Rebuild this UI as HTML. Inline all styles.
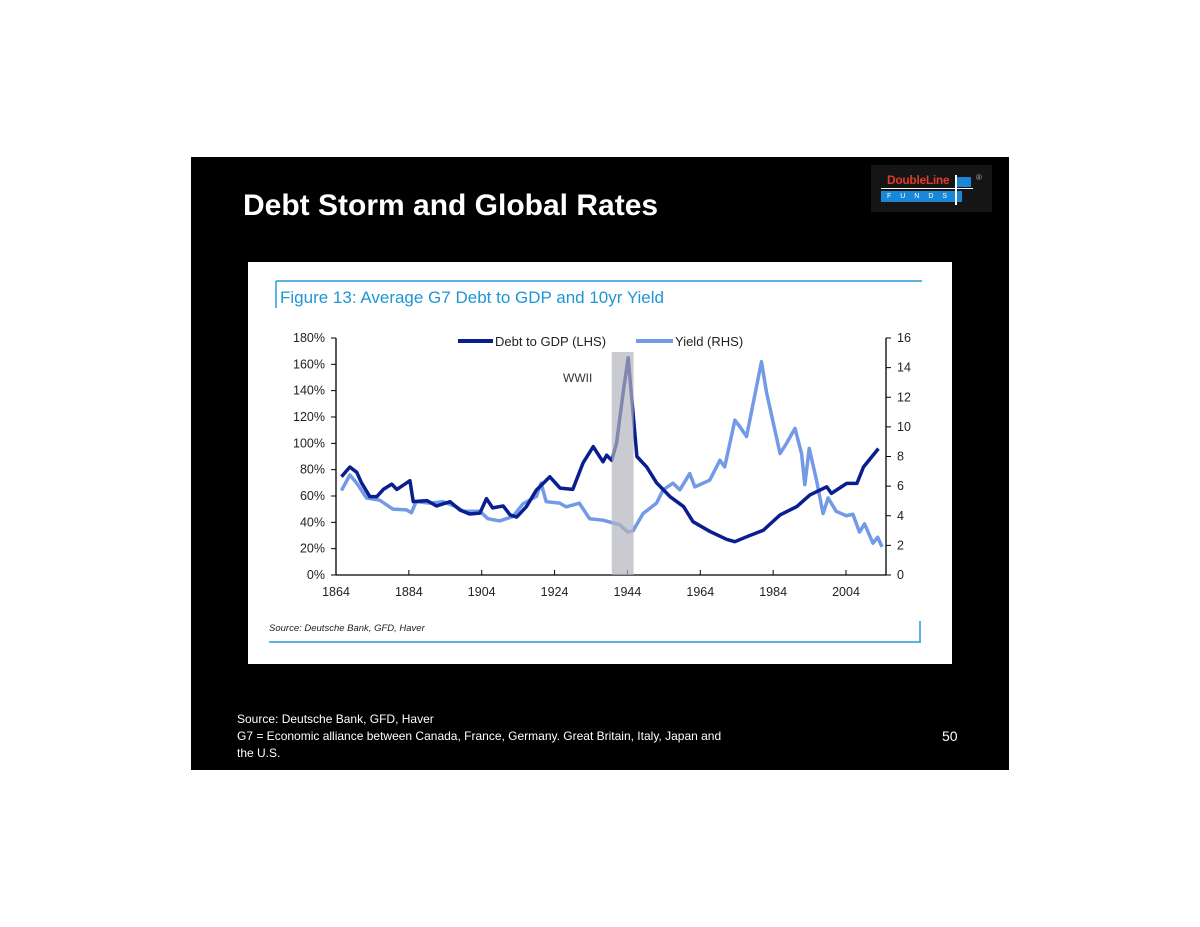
<!DOCTYPE html>
<html><head><meta charset="utf-8"><style>
html,body{margin:0;padding:0;background:#fff;width:1200px;height:927px;overflow:hidden;font-family:"Liberation Sans",sans-serif}
#slide{position:absolute;left:191px;top:157px;width:818px;height:613px;background:#000}
#title{position:absolute;left:243px;top:189px;color:#fff;font-weight:bold;font-size:30px}
#panel{position:absolute;left:248px;top:262px;width:704px;height:402px;background:#fff}
.foot{position:absolute;color:#fff;font-size:12px;line-height:17px}
</style></head><body>
<div id="slide"></div>
<div id="title">Debt Storm and Global Rates</div>
<div style="position:absolute;left:871px;top:165px;width:121px;height:47px;background:#151515">
  <div style="position:absolute;left:16px;top:8px;color:#e03a2c;font-weight:bold;font-size:12px;letter-spacing:-0.3px">DoubleLine</div>
  <div style="position:absolute;left:10px;top:26px;width:81px;height:11px;background:#1a86d6;color:#fff;font-size:7px;letter-spacing:9px;line-height:11px;text-align:center">FUNDS</div>
  <div style="position:absolute;left:86px;top:12px;width:14px;height:10px;background:#1a86d6"></div>
  <div style="position:absolute;left:84px;top:10px;width:2px;height:30px;background:#fff"></div>
  <div style="position:absolute;left:10px;top:23px;width:92px;height:1px;background:#fff"></div>
  <div style="position:absolute;left:105px;top:8px;color:#aaa;font-size:8px">®</div>
</div>
<div id="panel"></div>
<svg width="1200" height="927" style="position:absolute;left:0;top:0">
  <line x1="276" y1="281" x2="922" y2="281" stroke="#2a9ad8" stroke-width="1.5"/>
  <line x1="276" y1="281" x2="276" y2="308" stroke="#2a9ad8" stroke-width="1.5"/>
  <text x="280" y="303" font-size="17" fill="#1e96d6" font-family="Liberation Sans">Figure 13: Average G7 Debt to GDP and 10yr Yield</text>
  <line x1="269" y1="642" x2="921" y2="642" stroke="#2a9ad8" stroke-width="1.5"/>
  <line x1="920" y1="621" x2="920" y2="642" stroke="#2a9ad8" stroke-width="1.5"/>
  <text x="269" y="631" font-size="9.5" font-style="italic" fill="#222">Source: Deutsche Bank, GFD, Haver</text>
  <g id="axes"></g>
  <g id="series"></g>
  <g>
    <line x1="458" y1="341" x2="493" y2="341" stroke="#0a1f8f" stroke-width="4"/>
    <text x="495" y="346" font-size="13" fill="#222">Debt to GDP (LHS)</text>
    <line x1="636" y1="341" x2="673" y2="341" stroke="#729ae6" stroke-width="4"/>
    <text x="675" y="346" font-size="13" fill="#222">Yield (RHS)</text>
  </g>
  <text x="563" y="382" font-size="12" fill="#333">WWII</text>
</svg>
<div class="foot" style="left:237px;top:711px;width:500px">Source: Deutsche Bank, GFD, Haver<br>G7 = Economic alliance between Canada, France, Germany. Great Britain, Italy, Japan and the U.S.</div>
<div class="foot" style="left:942px;top:728px;font-size:14px">50</div>
<script>
const xTicks=[1864,1884,1904,1924,1944,1964,1984,2004];
const leftTicks=[0,20,40,60,80,100,120,140,160,180];
const rightTicks=[0,2,4,6,8,10,12,14,16];
const debtYears=[1865.5,1867.8,1869.7,1871,1873.3,1875.2,1877,1879.3,1880.7,1884.3,1885.2,1889,1891.6,1895.3,1898,1900.7,1903.5,1905.3,1907,1909.9,1911.8,1913.6,1916.3,1919,1922.7,1925.5,1929,1931.8,1934.6,1937.3,1938.3,1939.7,1941,1942.9,1944.2,1946.6,1949.3,1952,1955.7,1959.4,1962,1966.7,1971.3,1973.5,1976.7,1981.3,1985.9,1990.5,1994.1,1998.7,2000,2004.2,2007,2008.8,2012.9];
const debtValues=[74.6,82,78,70,59.5,59.5,65,69,65,71.6,55.7,56.5,52.4,55.7,49.4,46.3,47,58,51,52.4,45.6,44,52,64.5,74.6,66,65,85,97.5,86,91,87,100,140,165,90,82,70,59.5,52,40.5,33,27,25.3,29,34,45.6,52,60.8,67,62,69.6,69.6,82,96];
const yieldYears=[1865.5,1867.8,1869.7,1872.4,1876,1879.6,1883.3,1884.7,1886,1889.8,1893.4,1897.1,1898.9,1903.5,1905.7,1908.9,1912.6,1915.3,1919,1920.3,1921.7,1925.4,1927.2,1930.8,1933.6,1937.3,1941.8,1944.1,1945.6,1948.3,1952,1953.8,1956.5,1958.4,1961.1,1962.5,1966.6,1969.4,1970.7,1973.5,1974.9,1976.7,1980.8,1982.2,1985.9,1987.7,1990,1991.8,1992.7,1993.9,1995.9,1997.7,1999.1,2001.3,2004.1,2005.9,2007.7,2009.1,2011.4,2012.7,2013.9];
const yieldValues=[5.7,6.75,6.2,5.2,5.05,4.45,4.4,4.2,4.95,4.85,4.95,4.6,4.3,4.3,3.8,3.65,3.95,4.8,5.3,6.2,4.95,4.85,4.6,4.85,3.8,3.7,3.4,2.9,3.0,4.15,4.85,5.75,6.2,5.75,6.85,5.95,6.4,7.75,7.3,10.45,10,9.35,14.4,12.3,8.2,8.9,9.9,8.2,6.1,8.55,6.4,4.15,5.2,4.3,4.0,4.1,2.9,3.45,2.15,2.55,1.9];
const wwii=[1939.7,1945.7];
const X0=336,X1=886,Y0=575,Y1=338;
const x=yr=>X0+(yr-1864)*(846-336)/140;
const yL=v=>Y0-v*(Y0-Y1)/180;
const yR=v=>Y0-v*(Y0-Y1)/16;
const NS='http://www.w3.org/2000/svg';
function mk(tag,attrs,parent){const e=document.createElementNS(NS,tag);for(const k in attrs)e.setAttribute(k,attrs[k]);parent.appendChild(e);return e;}
const ax=document.getElementById('axes'),se=document.getElementById('series');
mk('line',{x1:X0,y1:Y1,x2:X0,y2:Y0,stroke:'#000','stroke-width':1.3},ax);
mk('line',{x1:X1,y1:Y1,x2:X1,y2:Y0,stroke:'#000','stroke-width':1.3},ax);
mk('line',{x1:X0,y1:Y0,x2:X1,y2:Y0,stroke:'#000','stroke-width':1.3},ax);
leftTicks.forEach(v=>{mk('line',{x1:X0-5,y1:yL(v),x2:X0,y2:yL(v),stroke:'#000'},ax);
 const t=mk('text',{x:X0-11,y:yL(v)+4,'font-size':12.5,'text-anchor':'end',fill:'#222'},ax);t.textContent=v+'%';
 
 });
rightTicks.forEach(v=>{mk('line',{x1:X1,y1:yR(v),x2:X1+5,y2:yR(v),stroke:'#000'},ax);
 const t=mk('text',{x:X1+11,y:yR(v)+4,'font-size':12.5,fill:'#222'},ax);t.textContent=v;
 
 });
xTicks.forEach(v=>{mk('line',{x1:x(v),y1:Y0-5,x2:x(v),y2:Y0,stroke:'#000'},ax);
 const t=mk('text',{x:x(v),y:Y0+21,'font-size':12.5,'text-anchor':'middle',fill:'#222'},ax);t.textContent=v;
 
 });
const yl=mk('polyline',{points:yieldYears.map((yr,i)=>x(yr)+','+yR(yieldValues[i])).join(' '),fill:'none',stroke:'#729ae6','stroke-width':3.5,'stroke-linejoin':'round'},se);


const dl=mk('polyline',{points:debtYears.map((yr,i)=>x(yr)+','+yL(debtValues[i])).join(' '),fill:'none',stroke:'#0a1f8f','stroke-width':3.5,'stroke-linejoin':'round'},se);


const band=mk('rect',{x:x(wwii[0]),y:352,width:x(wwii[1])-x(wwii[0]),height:Y0-352,fill:'#b4b3bd','fill-opacity':0.7},se);


</script>
</body></html>
